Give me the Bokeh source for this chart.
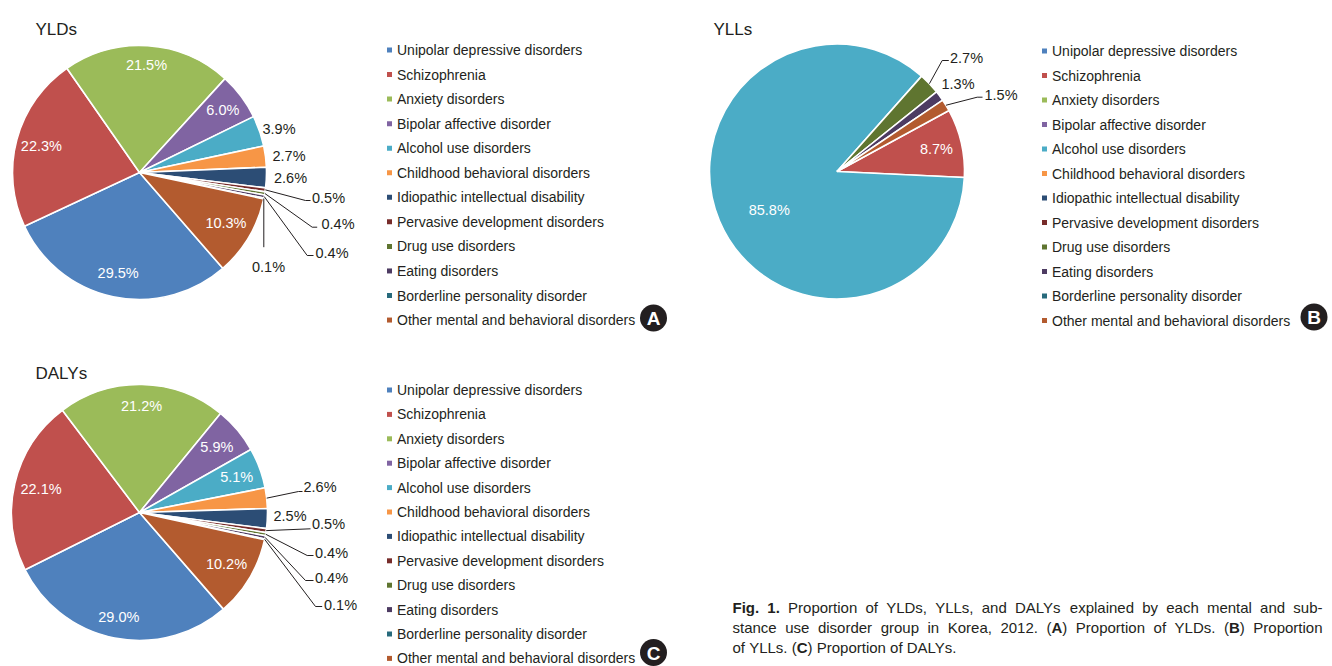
import math
from bokeh.plotting import figure
from bokeh.models import ColumnDataSource, Range1d
from bokeh.core.properties import value
from bokeh.embed import file_html
from bokeh.resources import INLINE

# ---------------- data ----------------
categories = [
    "Unipolar depressive disorders",
    "Schizophrenia",
    "Anxiety disorders",
    "Bipolar affective disorder",
    "Alcohol use disorders",
    "Childhood behavioral disorders",
    "Idiopathic intellectual disability",
    "Pervasive development disorders",
    "Drug use disorders",
    "Eating disorders",
    "Borderline personality disorder",
    "Other mental and behavioral disorders",
]
colors = ["#4F81BD", "#C0504D", "#9BBB59", "#8064A2", "#4BACC6", "#F79646",
          "#2C4D75", "#772C2A", "#5F7530", "#4D3B62", "#276A7C", "#B35B2F"]

yld_values = [29.5, 22.3, 21.5, 6.0, 3.9, 2.7, 2.6, 0.5, 0.4, 0.4, 0.1, 10.3]
yll_values = [0.0, 8.7, 0.0, 0.0, 85.8, 0.0, 0.0, 0.0, 2.7, 1.3, 0.0, 1.5]
daly_values = [29.0, 22.1, 21.2, 5.9, 5.1, 2.6, 2.5, 0.5, 0.4, 0.4, 0.1, 10.2]

panel_titles = ["YLDs", "YLLs", "DALYs"]
badge_letters = ["A", "B", "C"]

caption_lines = [
    "*Fig.* *1.* Proportion of YLDs, YLLs, and DALYs explained by each mental and sub-",
    "stance use disorder group in Korea, 2012. (*A*) Proportion of YLDs. (*B*) Proportion",
    "of YLLs. (*C*) Proportion of DALYs.",
]

# ---------------- layout (pixel coordinates of the page) ----------------
FONT = "Liberation Sans"
TXT = "#231F20"
W, H = 1332, 666
LABEL_SIZE = "14.5px"
LEGEND_SIZE = "14px"
TITLE_SIZE = "17px"


def Y(py):
    return H - py


panels = [
    dict(values=yld_values, cx=139, cy=172, r=127, start=139.0,
         title_xy=(35, 28.5), legend_x=389, legend_y0=49.5, legend_dy=24.55,
         badge_xy=(653, 317.5),
         labels={0: ("in", 0.81, 0), 1: ("in", 0.80, 0), 2: ("in", 0.85, 0), 3: ("in", 0.82, 0),
                 4: ("out", (262, 128, "left"), []),
                 5: ("out", (272, 155, "left"), []),
                 6: ("out", (273.5, 177.3, "left"), []),
                 7: ("out", (311.5, 197, "left"), [(305, 200), (310, 200)]),
                 8: ("out", (321, 223.5, "left"), [(311.7, 226.7), (316.7, 226.7)]),
                 9: ("out", (315, 252.5, "left"), [(306.7, 255), (313, 255)]),
                 10: ("out", (268, 266.7, "center"), [(None, 246.7)]),
                 11: ("in", 0.79, 0)}),
    dict(values=yll_values, cx=836.5, cy=171, r=127.5, start=61.4,
         title_xy=(713, 28.5), legend_x=1044, legend_y0=50.5, legend_dy=24.5,
         badge_xy=(1313.5, 316.5),
         labels={1: ("in", 0.80, 0), 4: ("in", 0.61, -6.6),
                 8: ("out", (949.5, 57.3, "left"), [(941.7, 60), (948.3, 60)]),
                 9: ("out", (941, 83.3, "left"), []),
                 11: ("out", (984, 94, "left"), [(976.7, 96.7), (982, 96.7)])}),
    dict(values=daly_values, cx=139, cy=512, r=128, start=139.0,
         title_xy=(35, 373.3), legend_x=389, legend_y0=389.5, legend_dy=24.4,
         badge_xy=(653, 652),
         labels={0: ("in", 0.83, 0), 1: ("in", 0.79, 0), 2: ("in", 0.835, 0), 3: ("in", 0.79, 0),
                 4: ("in", 0.81, 0),
                 5: ("out", (303, 486.7, "left"), [(298, 491), (302, 491)]),
                 6: ("out", (273, 515, "left"), []),
                 7: ("out", (311.5, 523.3, "left"), [(310, 528.3)]),
                 8: ("out", (314.5, 552.7, "left"), [(306.7, 555), (313, 555)]),
                 9: ("out", (314.5, 577.3, "left"), [(305, 580), (313, 580)]),
                 10: ("out", (323.5, 604, "left"), [(315, 606), (321.7, 606)]),
                 11: ("in", 0.79, 0)}),
]

p = figure(width=W, height=H, output_backend="svg", toolbar_location=None,
           x_range=Range1d(0, W), y_range=Range1d(0, H),
           x_axis_location=None, y_axis_location=None, min_border=0)
p.outline_line_color = None
p.xgrid.visible = False
p.ygrid.visible = False
p.background_fill_color = "white"
p.border_fill_color = "white"

for k, pan in enumerate(panels):
    vals = pan["values"]
    total = sum(vals)
    cx, cy, r = pan["cx"], pan["cy"], pan["r"]
    wx, wy, ws, we, wc = [], [], [], [], []
    mids = {}
    cum = 0.0
    for i, v in enumerate(vals):
        b1 = pan["start"] + cum / total * 360.0
        b2 = b1 + v / total * 360.0
        cum += v
        mids[i] = (b1 + b2) / 2.0
        if v <= 0:
            continue
        wx.append(cx)
        wy.append(Y(cy))
        ws.append(90.0 - b2)
        we.append(90.0 - b1)
        wc.append(colors[i])
    p.wedge(x="x", y="y", radius=r, start_angle="s", end_angle="e",
            start_angle_units="deg", end_angle_units="deg",
            fill_color="c", line_color="white", line_width=1.6,
            source=ColumnDataSource(dict(x=wx, y=wy, s=ws, e=we, c=wc)))

    # labels
    in_x, in_y, in_t = [], [], []
    out_x, out_y, out_t, out_a = [], [], [], []
    lx, ly = [], []
    for i, spec in pan["labels"].items():
        txt = f"{vals[i]:.1f}%"
        b = math.radians(mids[i])
        if spec[0] == "in":
            f, da = spec[1], spec[2]
            bb = math.radians(mids[i] + da)
            in_x.append(cx + f * r * math.sin(bb))
            in_y.append(Y(cy - f * r * math.cos(bb)))
            in_t.append(txt)
        else:
            (tx, ty, ta), elbows = spec[1], spec[2]
            out_x.append(tx)
            out_y.append(Y(ty))
            out_t.append(txt)
            out_a.append(ta)
            if elbows:
                sx = cx + r * math.sin(b)
                sy = cy - r * math.cos(b)
                xs, ys = [sx], [Y(sy)]
                for ex, ey in elbows:
                    xs.append(sx if ex is None else ex)
                    ys.append(Y(ey))
                lx.append(xs)
                ly.append(ys)
    if lx:
        p.multi_line(xs="xs", ys="ys", line_color=TXT, line_width=1,
                     source=ColumnDataSource(dict(xs=lx, ys=ly)))
    p.text(x="x", y="y", text="t", text_align="center", text_baseline="middle",
           text_font=value(FONT), text_font_size=LABEL_SIZE, text_color="white",
           source=ColumnDataSource(dict(x=in_x, y=in_y, t=in_t)))
    p.text(x="x", y="y", text="t", text_align="a", text_baseline="middle",
           text_font=value(FONT), text_font_size=LABEL_SIZE, text_color=TXT,
           source=ColumnDataSource(dict(x=out_x, y=out_y, t=out_t, a=out_a)))

    # title
    tx, ty = pan["title_xy"]
    p.text(x=[tx], y=[Y(ty)], text=[panel_titles[k]], text_align="left",
           text_baseline="alphabetic", text_font=value(FONT),
           text_font_size=TITLE_SIZE, text_color=TXT)

    # legend
    gx = [pan["legend_x"]] * len(categories)
    gy = [Y(pan["legend_y0"] + j * pan["legend_dy"]) for j in range(len(categories))]
    p.rect(x=gx, y=gy, width=5, height=5, fill_color=colors, line_color=None)
    p.text(x=[pan["legend_x"] + 7.5] * len(categories), y=gy, text=categories,
           text_align="left", text_baseline="middle", text_font=value(FONT),
           text_font_size=LEGEND_SIZE, text_color=TXT)

    # badge
    bx, by = pan["badge_xy"]
    p.scatter(x=[bx], y=[Y(by)], marker="circle", size=27, fill_color="#231F20",
              line_color=None)
    p.text(x=[bx], y=[Y(by) - 0.5], text=[badge_letters[k]], text_align="center",
           text_baseline="middle", text_font=value(FONT),
           text_font_style="bold", text_font_size="19px", text_color="white")

# ---------------- caption (justified, Arial/Liberation metrics) ----------------
AR = {' ': 278, '!': 278, '(': 333, ')': 333, ',': 278, '-': 333, '.': 278, '%': 889,
      'A': 667, 'B': 667, 'C': 722, 'D': 722, 'E': 667, 'F': 611, 'G': 778, 'H': 722,
      'I': 278, 'J': 500, 'K': 667, 'L': 556, 'M': 833, 'N': 722, 'O': 778, 'P': 667,
      'Q': 778, 'R': 722, 'S': 667, 'T': 611, 'U': 722, 'V': 667, 'W': 944, 'X': 667,
      'Y': 667, 'Z': 611, 'a': 556, 'b': 556, 'c': 500, 'd': 556, 'e': 556, 'f': 278,
      'g': 556, 'h': 556, 'i': 222, 'j': 222, 'k': 500, 'l': 222, 'm': 833, 'n': 556,
      'o': 556, 'p': 556, 'q': 556, 'r': 333, 's': 500, 't': 278, 'u': 556, 'v': 500,
      'w': 722, 'x': 500, 'y': 500, 'z': 500}
for d in "0123456789":
    AR[d] = 556
ARB = dict(AR)
ARB.update({'A': 722, 'B': 722, 'C': 722, 'F': 611, 'i': 278, 'g': 611, '1': 556})

CAP_SIZE = 15.0
CAP_X0, CAP_X1 = 732, 1322
CAP_BASE = [607, 627, 647]


def run_w(t, bold):
    tab = ARB if bold else AR
    return sum(tab.get(c, 556) for c in t) / 1000.0 * CAP_SIZE


nx, ny, nt, bx_, by_, bt = [], [], [], [], [], []
for li, line in enumerate(caption_lines):
    words = line.split(" ")
    parsed = []
    for wd in words:
        parts = wd.split("*")
        runs = [(pt, j % 2 == 1) for j, pt in enumerate(parts) if pt]
        parsed.append(runs)
    widths = [sum(run_w(t, b) for t, b in runs) for runs in parsed]
    sp = run_w(" ", False)
    if li < len(caption_lines) - 1 and len(parsed) > 1:
        sp = (CAP_X1 - CAP_X0 - sum(widths)) / (len(parsed) - 1)
    x = CAP_X0
    for runs, wdt in zip(parsed, widths):
        xx = x
        for t, b in runs:
            if b:
                bx_.append(xx); by_.append(Y(CAP_BASE[li])); bt.append(t)
            else:
                nx.append(xx); ny.append(Y(CAP_BASE[li])); nt.append(t)
            xx += run_w(t, b)
        x += wdt + sp

p.text(x="x", y="y", text="t", text_align="left", text_baseline="alphabetic",
       text_font=value(FONT), text_font_size=f"{CAP_SIZE}px", text_color=TXT,
       source=ColumnDataSource(dict(x=nx, y=ny, t=nt)))
p.text(x="x", y="y", text="t", text_align="left", text_baseline="alphabetic",
       text_font=value(FONT), text_font_style="bold", text_font_size=f"{CAP_SIZE}px",
       text_color=TXT, source=ColumnDataSource(dict(x=bx_, y=by_, t=bt)))

open("out.html", "w").write(file_html(p, INLINE))
